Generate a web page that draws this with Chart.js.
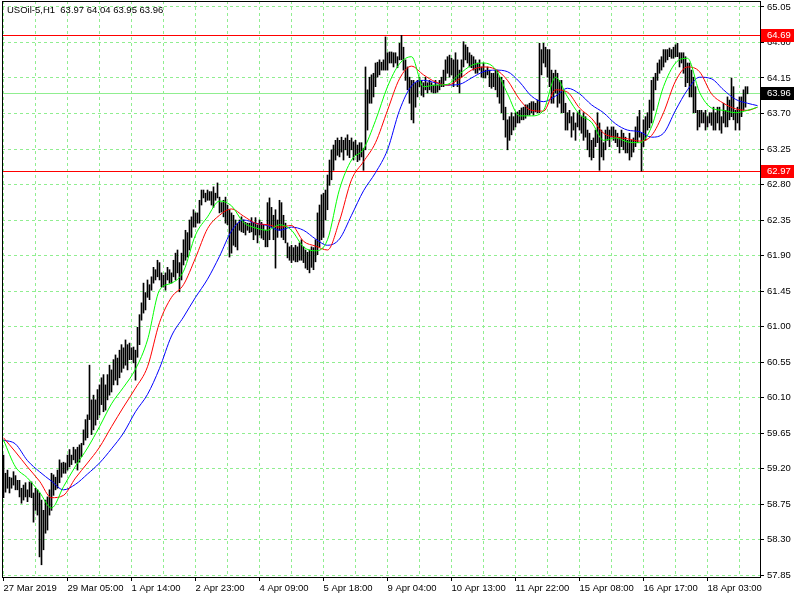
<!DOCTYPE html>
<html>
<head>
<meta charset="utf-8">
<title>USOil-5,H1</title>
<script src="https://cdn.jsdelivr.net/npm/chart.js@4/dist/chart.umd.min.js"></script>
<style>
  html, body { margin: 0; padding: 0; background: #fff; }
  canvas { display: block; }
</style>
</head>
<body>
<canvas id="price-chart" width="800" height="600"></canvas>
<script>
// --- Chart data (H1 bars) ---
const symbolTitle = 'USOil-5,H1  63.97 64.04 63.95 63.96';

const highs = [
  59.37, 59.14, 59.18, 59.09, 59.08, 59.16, 59.11, 59.05, 59.05, 58.95,
  58.99, 59.02, 58.93, 59.03, 59.03, 58.89, 58.95, 58.93, 58.89, 58.80,
  58.67, 58.80, 58.84, 58.93, 59.14, 59.12, 59.09, 59.18, 59.31, 59.27,
  59.28, 59.27, 59.37, 59.44, 59.37, 59.47, 59.44, 59.47, 59.50, 59.52,
  59.69, 59.82, 59.88, 60.51, 60.07, 60.13, 60.07, 60.20, 60.26, 60.35,
  60.39, 60.26, 60.39, 60.51, 60.45, 60.58, 60.64, 60.60, 60.70, 60.77,
  60.73, 60.83, 60.77, 60.79, 60.73, 60.74, 60.70, 60.99, 61.15, 61.30,
  61.55, 61.43, 61.59, 61.53, 61.63, 61.75, 61.72, 61.84, 61.81, 61.68,
  61.65, 61.68, 61.75, 61.72, 61.68, 61.84, 61.93, 61.97, 61.81, 61.93,
  62.10, 62.22, 62.19, 62.35, 62.39, 62.48, 62.44, 62.44, 62.60, 62.73,
  62.73, 62.69, 62.73, 62.71, 62.71, 62.77, 62.69, 62.82, 62.64, 62.57,
  62.60, 62.64, 62.54, 62.48, 62.44, 62.41, 62.35, 62.31, 62.35, 62.39,
  62.35, 62.32, 62.31, 62.31, 62.38, 62.32, 62.38, 62.29, 62.35, 62.32,
  62.29, 62.22, 62.57, 62.63, 62.51, 62.41, 62.48, 62.35, 62.60, 62.57,
  62.41, 62.31, 62.06, 62.01, 62.03, 62.00, 62.03, 62.01, 62.06, 62.10,
  62.01, 61.97, 61.94, 61.97, 62.01, 62.00, 62.10, 62.44, 62.54, 62.67,
  62.69, 62.73, 62.92, 63.11, 63.24, 63.30, 63.36, 63.39, 63.36, 63.40,
  63.36, 63.39, 63.43, 63.36, 63.39, 63.34, 63.36, 63.30, 63.33, 63.33,
  63.26, 64.29, 64.00, 64.16, 64.19, 64.21, 64.34, 64.35, 64.38, 64.35,
  64.38, 64.67, 64.47, 64.48, 64.48, 64.47, 64.47, 64.42, 64.59, 64.69,
  64.54, 64.38, 64.29, 64.16, 64.12, 64.12, 64.09, 64.12, 64.16, 64.12,
  64.09, 64.16, 64.09, 64.12, 64.09, 64.06, 64.12, 64.06, 64.12, 64.16,
  64.25, 64.38, 64.42, 64.44, 64.40, 64.38, 64.47, 64.38, 64.25, 64.38,
  64.61, 64.57, 64.54, 64.47, 64.44, 64.42, 64.38, 64.34, 64.38, 64.29,
  64.34, 64.25, 64.29, 64.25, 64.21, 64.21, 64.25, 64.25, 64.16, 64.16,
  64.12, 63.78, 63.62, 63.66, 63.71, 63.66, 63.71, 63.72, 63.74, 63.77,
  63.78, 63.81, 63.81, 63.83, 63.85, 63.85, 63.83, 63.87, 64.59, 64.51,
  64.59, 64.54, 64.51, 64.51, 64.25, 64.21, 64.25, 64.21, 64.12, 64.12,
  64.00, 63.83, 63.71, 63.74, 63.66, 63.71, 63.58, 63.71, 63.74, 63.66,
  63.71, 63.66, 63.49, 63.45, 63.36, 63.39, 63.49, 63.71, 63.58, 63.49,
  63.33, 63.49, 63.53, 63.49, 63.53, 63.53, 63.49, 63.45, 63.40, 63.49,
  63.45, 63.40, 63.36, 63.45, 63.36, 63.39, 63.53, 63.66, 63.74, 63.45,
  63.62, 63.66, 63.71, 63.87, 64.12, 64.16, 64.21, 64.34, 64.38, 64.42,
  64.51, 64.51, 64.51, 64.53, 64.51, 64.54, 64.57, 64.59, 64.47, 64.47,
  64.47, 64.42, 64.34, 64.34, 64.25, 64.16, 64.04, 63.74, 63.74, 63.74,
  63.71, 63.74, 63.66, 63.71, 63.71, 63.78, 63.71, 63.78, 63.78, 63.66,
  63.83, 63.74, 63.91, 63.87, 64.15, 64.04, 63.74, 63.78, 63.91, 63.91,
  64.00, 64.04, 64.04
];

const lows = [
  58.83, 58.90, 58.95, 58.89, 58.95, 58.99, 58.93, 58.93, 58.84, 58.76,
  58.80, 58.84, 58.78, 58.84, 58.83, 58.52, 58.67, 58.61, 58.08, 57.98,
  58.17, 58.38, 58.42, 58.61, 58.67, 58.86, 58.93, 58.95, 59.02, 59.09,
  59.14, 59.14, 59.18, 59.22, 59.25, 59.31, 59.27, 59.18, 59.28, 59.35,
  59.50, 59.56, 59.59, 59.82, 59.63, 59.69, 59.75, 59.82, 59.88, 60.01,
  59.92, 59.94, 60.07, 60.13, 60.17, 60.26, 60.32, 60.26, 60.35, 60.42,
  60.47, 60.51, 60.45, 60.58, 60.58, 60.54, 60.32, 60.61, 60.77, 61.08,
  61.17, 61.21, 61.37, 61.34, 61.46, 61.55, 61.59, 61.63, 61.59, 61.50,
  61.50, 61.46, 61.59, 61.55, 61.55, 61.63, 61.59, 61.68, 61.44, 61.59,
  61.78, 61.84, 61.88, 61.97, 62.13, 62.26, 62.26, 62.31, 62.31, 62.54,
  62.63, 62.58, 62.60, 62.60, 62.54, 62.51, 62.60, 62.63, 62.44, 62.45,
  62.39, 62.31, 62.29, 61.88, 61.93, 62.03, 62.01, 61.97, 62.22, 62.20,
  62.19, 62.16, 62.22, 62.19, 62.20, 62.10, 62.16, 62.06, 62.16, 62.12,
  62.10, 62.01, 62.01, 62.10, 62.26, 62.10, 61.74, 62.13, 62.22, 62.13,
  62.10, 62.06, 61.87, 61.84, 61.81, 61.84, 61.82, 61.82, 61.84, 61.84,
  61.81, 61.74, 61.72, 61.68, 61.75, 61.72, 61.82, 61.91, 62.01, 62.10,
  62.13, 62.35, 62.48, 62.79, 62.86, 62.98, 63.11, 63.17, 63.15, 63.21,
  63.11, 63.24, 63.17, 63.14, 63.24, 63.11, 63.17, 63.09, 63.11, 63.15,
  62.98, 63.24, 63.49, 63.83, 63.83, 63.91, 64.04, 64.16, 64.19, 64.25,
  64.25, 64.25, 64.25, 64.34, 64.34, 64.29, 64.34, 64.28, 64.38, 64.38,
  64.25, 64.12, 64.00, 63.83, 63.62, 63.58, 63.78, 63.91, 64.04, 63.93,
  63.91, 64.00, 63.96, 64.00, 63.97, 63.96, 63.96, 63.97, 64.00, 64.04,
  64.04, 64.12, 64.21, 64.16, 64.19, 64.04, 64.12, 64.04, 63.96, 64.16,
  64.29, 64.38, 64.34, 64.29, 64.28, 64.25, 64.21, 64.21, 64.25, 64.16,
  64.15, 64.15, 64.19, 64.04, 64.02, 64.04, 64.00, 63.91, 63.83, 63.71,
  63.62, 63.40, 63.24, 63.36, 63.43, 63.49, 63.53, 63.58, 63.58, 63.62,
  63.62, 63.64, 63.68, 63.68, 63.71, 63.68, 63.72, 63.71, 63.71, 64.19,
  64.34, 64.29, 64.16, 64.04, 63.83, 63.83, 63.96, 63.78, 63.83, 63.71,
  63.71, 63.49, 63.49, 63.58, 63.40, 63.49, 63.36, 63.53, 63.49, 63.45,
  63.36, 63.40, 63.24, 63.15, 63.11, 63.14, 63.28, 63.33, 62.98, 63.15,
  63.11, 63.24, 63.36, 63.28, 63.40, 63.36, 63.33, 63.28, 63.20, 63.28,
  63.24, 63.20, 63.20, 63.11, 63.15, 63.21, 63.28, 63.33, 63.40, 62.97,
  63.28, 63.36, 63.49, 63.52, 63.58, 63.74, 64.00, 64.12, 64.21, 64.25,
  64.29, 64.35, 64.38, 64.42, 64.40, 64.40, 64.42, 64.42, 64.29, 64.34,
  64.21, 64.04, 64.09, 63.91, 63.91, 63.71, 63.71, 63.49, 63.53, 63.58,
  63.58, 63.49, 63.53, 63.58, 63.55, 63.49, 63.49, 63.58, 63.49, 63.45,
  63.58, 63.53, 63.53, 63.62, 63.66, 63.62, 63.49, 63.58, 63.49, 63.66,
  63.74, 63.78, 63.95
];

// moving averages, read every 6 bars (bar index -> price)
const maIndex = [
  0, 6, 12, 18, 24, 30, 36, 42, 48, 54, 60, 66, 72, 78, 84, 90,
  96, 102, 108, 114, 120, 126, 132, 138, 144, 150, 156, 162, 168, 174, 180, 186,
  192, 198, 204, 210, 216, 222, 228, 234, 240, 246, 252, 258, 264, 270, 276, 282,
  288, 294, 300, 306, 312, 318, 324, 330, 336, 342, 348, 354, 360, 366, 372, 377
];
const maGreen = [
  59.56, 59.22, 59.08, 58.90, 58.70, 58.97, 59.23, 59.46, 59.73, 60.02, 60.23, 60.46, 60.83, 61.46, 61.55, 61.70,
  62.16, 62.39, 62.59, 62.53, 62.32, 62.25, 62.22, 62.29, 62.22, 62.01, 61.96, 62.10, 62.74, 63.11, 63.25, 63.61,
  64.04, 64.33, 64.42, 64.04, 64.06, 64.07, 64.20, 64.31, 64.34, 64.26, 63.95, 63.67, 63.67, 63.74, 64.16, 63.91,
  63.69, 63.59, 63.36, 63.39, 63.34, 63.33, 63.53, 64.04, 64.34, 64.40, 63.97, 63.77, 63.74, 63.71, 63.74, 63.78
];
const maRed = [
  59.59, 59.41, 59.22, 59.04, 58.83, 58.86, 59.08, 59.27, 59.47, 59.73, 59.98, 60.22, 60.49, 61.05, 61.37, 61.53,
  61.87, 62.24, 62.41, 62.49, 62.40, 62.31, 62.29, 62.26, 62.28, 62.08, 62.02, 61.97, 62.34, 62.86, 63.09, 63.33,
  63.74, 64.14, 64.30, 64.19, 64.10, 64.06, 64.14, 64.25, 64.29, 64.26, 64.12, 63.88, 63.74, 63.73, 64.00, 63.97,
  63.77, 63.64, 63.45, 63.40, 63.38, 63.35, 63.42, 63.71, 64.11, 64.29, 64.23, 63.95, 63.83, 63.76, 63.74, 63.78
];
const maBlue = [
  59.56, 59.51, 59.30, 59.16, 59.04, 58.93, 59.00, 59.13, 59.27, 59.45, 59.65, 59.92, 60.14, 60.47, 60.88, 61.12,
  61.37, 61.60, 61.89, 62.21, 62.35, 62.31, 62.28, 62.22, 62.26, 62.22, 62.11, 62.03, 62.11, 62.41, 62.72, 62.95,
  63.24, 63.74, 64.05, 64.12, 64.09, 64.06, 64.07, 64.15, 64.23, 64.25, 64.23, 64.10, 63.92, 63.85, 63.92, 64.02,
  63.95, 63.81, 63.71, 63.57, 63.49, 63.47, 63.40, 63.45, 63.74, 64.00, 64.16, 64.14, 64.00, 63.88, 63.83, 63.80
];

// time axis labels sit on every 32nd bar
const xTickIndex = [0, 32, 64, 96, 128, 160, 192, 224, 256, 288, 320, 352];
const xTickLabels = [
  '27 Mar 2019', '29 Mar 05:00', '1 Apr 14:00', '2 Apr 23:00', '4 Apr 09:00', '5 Apr 18:00',
  '9 Apr 04:00', '10 Apr 13:00', '11 Apr 22:00', '15 Apr 08:00', '16 Apr 17:00', '18 Apr 03:00'
];
const yTicks = [
  57.85, 58.30, 58.75, 59.20, 59.65, 60.10, 60.55, 61.00, 61.45,
  61.90, 62.35, 62.80, 63.25, 63.70, 64.15, 64.60, 65.05
];

const levelHigh = 64.69;
const levelLow = 62.97;
const lastPrice = 63.96;

// --- Styling ---
const FONT_FAMILY = '"Liberation Sans", Arial, sans-serif';
const FONT_SIZE = 9.5;
const GRID_COLOR = '#90ee90';

// vertical grid every 16 bars
const gridIndex = [];
for (let i = 0; i <= 368; i += 16) gridIndex.push(i);

// frame, title, level lines and price tags
const overlayPlugin = {
  id: 'overlay',
  beforeDatasetsDraw(chart) {
    const { ctx, chartArea: a, scales: { y } } = chart;
    const hline = (value, color) => {
      const py = Math.round(y.getPixelForValue(value));
      ctx.fillStyle = color;
      ctx.fillRect(a.left, py, a.right - a.left, 1);
    };
    ctx.save();
    hline(lastPrice, GRID_COLOR);
    hline(levelHigh, '#ff0000');
    hline(levelLow, '#ff0000');
    ctx.restore();
  },
  afterDraw(chart) {
    const { ctx, chartArea: a, scales: { y } } = chart;
    ctx.save();
    ctx.fillStyle = '#000';
    ctx.fillRect(a.left, a.top, 1, a.bottom - a.top);
    ctx.fillRect(a.left, a.top, a.right - a.left, 1);

    ctx.font = FONT_SIZE + 'px ' + FONT_FAMILY;
    ctx.textAlign = 'left';
    ctx.textBaseline = 'middle';
    ctx.fillText(symbolTitle, 7, 10);

    const tag = (value, bg) => {
      const py = Math.round(y.getPixelForValue(value));
      ctx.fillStyle = bg;
      ctx.fillRect(a.right + 1, py - 6, 33, 13);
      ctx.fillStyle = '#fff';
      ctx.fillText(value.toFixed(2), a.right + 7, py + 0.5);
    };
    tag(levelHigh, '#ff0000');
    tag(levelLow, '#ff0000');
    tag(lastPrice, '#000000');
    ctx.restore();
  }
};

const maLine = (values, color, order) => ({
  type: 'line',
  data: maIndex.map((x, k) => ({ x, y: values[k] })),
  borderColor: color,
  borderWidth: 1,
  pointRadius: 0,
  cubicInterpolationMode: 'monotone',
  order
});

const ctx = document.getElementById('price-chart').getContext('2d');
new Chart(ctx, {
  type: 'bar',
  data: {
    datasets: [
      maLine(maGreen, '#00ff00', 0),
      maLine(maRed, '#ff0000', 1),
      maLine(maBlue, '#0000ff', 2),
      {
        type: 'bar',
        data: highs.map((h, i) => ({ x: i, y: [lows[i], h] })),
        backgroundColor: '#000000',
        borderWidth: 0,
        barThickness: 1,
        grouped: false,
        order: 5
      }
    ]
  },
  options: {
    responsive: false,
    animation: false,
    layout: { padding: { left: 2, top: 1, right: 0, bottom: 0 } },
    plugins: { legend: { display: false }, tooltip: { enabled: false } },
    scales: {
      x: {
        type: 'linear',
        min: -0.75,
        max: 378.25,
        offset: false,
        afterBuildTicks: (scale) => { scale.ticks = gridIndex.map(v => ({ value: v })); },
        afterFit: (scale) => { scale.height = 23; scale.paddingLeft = 0; scale.paddingRight = 0; },
        ticks: {
          autoSkip: false,
          maxRotation: 0,
          align: 'start',
          padding: 2,
          color: '#000',
          font: { family: FONT_FAMILY, size: FONT_SIZE },
          callback: (v) => {
            const k = xTickIndex.indexOf(v);
            return k >= 0 ? xTickLabels[k] : '';
          }
        },
        grid: {
          offset: false,
          color: GRID_COLOR,
          tickLength: 4,
          tickColor: (c) => (c.tick && xTickIndex.includes(c.tick.value)) ? '#000' : 'rgba(0,0,0,0)'
        },
        border: { display: true, color: '#000', dash: [3, 3] }
      },
      y: {
        type: 'linear',
        position: 'right',
        beginAtZero: false,
        min: 57.825,
        max: 65.126,
        afterBuildTicks: (scale) => { scale.ticks = yTicks.map(v => ({ value: v })); },
        afterFit: (scale) => { scale.width = 40; scale.paddingTop = 0; scale.paddingBottom = 0; },
        ticks: {
          color: '#000',
          padding: 3,
          font: { family: FONT_FAMILY, size: FONT_SIZE },
          callback: (v) => Number(v).toFixed(2)
        },
        grid: { color: GRID_COLOR, tickLength: 4, tickColor: '#000' },
        border: { display: true, color: '#000', dash: [3, 3] }
      }
    }
  },
  plugins: [overlayPlugin]
});
</script>
</body>
</html>
